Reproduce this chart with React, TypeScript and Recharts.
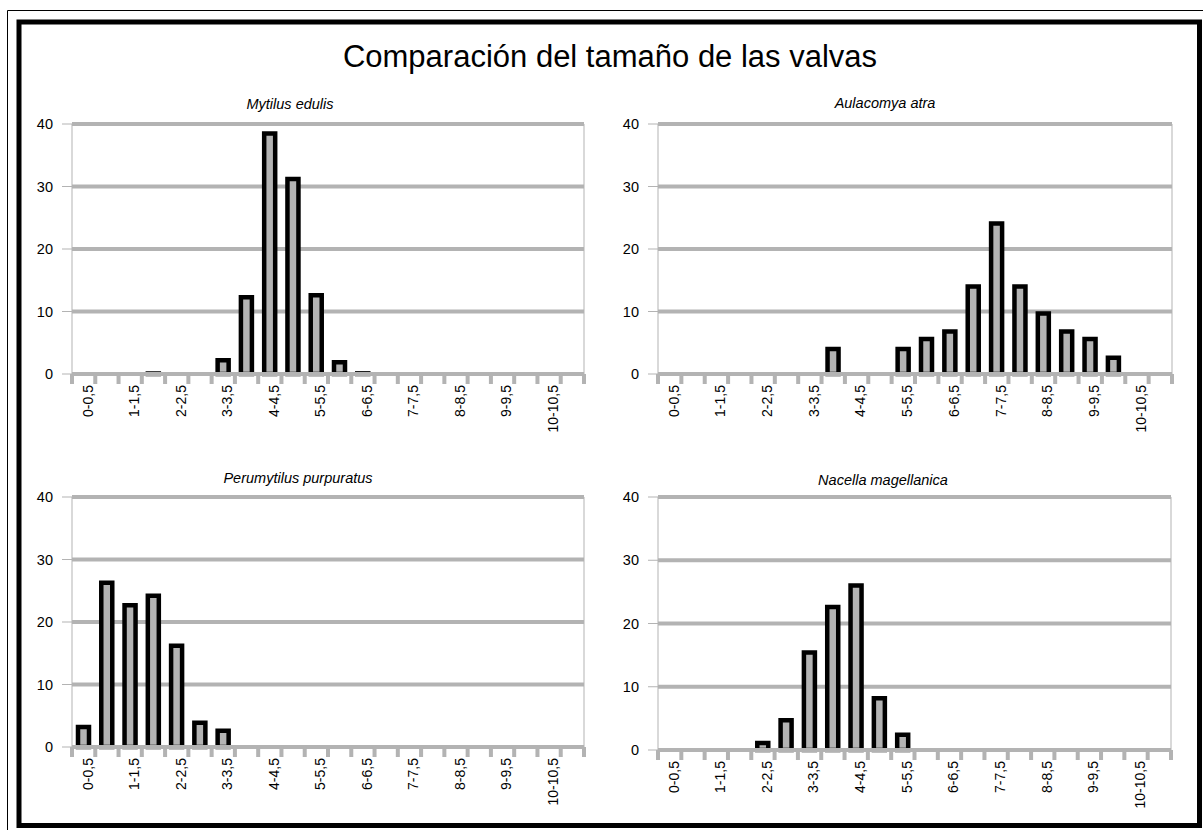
import React from "react";
import { BarChart, Bar, XAxis, YAxis, CartesianGrid } from "recharts";

const CATS = [
  "0-0,5", "0,5-1", "1-1,5", "1,5-2", "2-2,5", "2,5-3", "3-3,5", "3,5-4",
  "4-4,5", "4,5-5", "5-5,5", "5,5-6", "6-6,5", "6,5-7", "7-7,5", "7,5-8",
  "8-8,5", "8,5-9", "9-9,5", "9,5-10", "10-10,5", "10,5-11",
];

const MYTILUS = [0, 0, 0, 0.1, 0, 0, 2.2, 12.3, 38.5, 31.2, 12.6, 1.9, 0.1, 0, 0, 0, 0, 0, 0, 0, 0, 0];
const AULACOMYA = [0, 0, 0, 0, 0, 0, 0, 4.0, 0, 0, 4.0, 5.6, 6.8, 14.0, 24.1, 14.0, 9.7, 6.8, 5.6, 2.6, 0, 0];
const PERUMYTILUS = [3.2, 26.3, 22.7, 24.2, 16.2, 3.9, 2.6, 0, 0, 0, 0, 0, 0, 0, 0, 0, 0, 0, 0, 0, 0, 0];
const NACELLA = [0, 0, 0, 0, 1.1, 4.7, 15.4, 22.6, 26.0, 8.2, 2.4, 0, 0, 0, 0, 0, 0, 0, 0, 0, 0, 0];

const Y_TICKS = [0, 10, 20, 30, 40];

const TITLE = "Comparación del tamaño de las valvas";

const GRID = "#b3b3b3";
const FONT = "'Liberation Sans', Arial, sans-serif";

type PanelProps = {
  title: string;
  values: number[];
  left: number;
  top: number;
  plotW: number;
  plotH: number;
  titleX: number;
  titleY: number;
};

function CatTick(props: any) {
  const { x, y, payload, index, band } = props;
  const tx = x + 4;
  const ty = y + 11;
  return (
    <g>
      <rect x={x - band / 2 - 2} y={y} width={4} height={10} fill={GRID} />
      {index === CATS.length - 1 && (
        <rect x={x + band / 2 - 2} y={y} width={4} height={10} fill={GRID} />
      )}
      {index % 2 === 0 && (
        <text
          x={tx}
          y={ty}
          dy="0.35em"
          textAnchor="end"
          transform={`rotate(-90, ${tx}, ${ty})`}
          fontSize={14}
          fontFamily={FONT}
          fill="#000"
        >
          {payload.value}
        </text>
      )}
    </g>
  );
}

function Panel({ title, values, left, top, plotW, plotH, titleX, titleY }: PanelProps) {
  const data = CATS.map((c, i) => ({ cat: c, v: values[i] }));
  const yW = 52;
  const mTop = 14;
  const xH = 70;
  const band = plotW / CATS.length;
  return (
    <div style={{ position: "absolute", left, top }}>
      <div
        style={{
          position: "absolute",
          left: titleX - left - 150,
          top: titleY - top,
          width: 300,
          textAlign: "center",
          fontFamily: FONT,
          fontStyle: "italic",
          fontSize: 14.5,
          lineHeight: "16px",
        }}
      >
        {title}
      </div>
      <BarChart
        width={yW + plotW + 10}
        height={mTop + plotH + xH}
        data={data}
        margin={{ top: mTop, right: 10, left: 0, bottom: 0 }}
      >
        <CartesianGrid horizontal vertical={false} stroke={GRID} strokeWidth={4} />
        <CartesianGrid
          horizontal={false}
          vertical
          stroke={GRID}
          strokeWidth={1}
          verticalCoordinatesGenerator={({ offset }: any) => [offset.left + offset.width]}
        />
        <XAxis
          dataKey="cat"
          interval={0}
          height={xH}
          tickSize={0}
          tickMargin={0}
          tickLine={false}
          axisLine={{ stroke: GRID, strokeWidth: 4 }}
          tick={(p: any) => <CatTick {...p} band={band} />}
        />
        <YAxis
          width={yW}
          domain={[0, 40]}
          ticks={Y_TICKS}
          interval={0}
          tickSize={10}
          tickMargin={9}
          axisLine={{ stroke: GRID, strokeWidth: 1 }}
          tickLine={{ stroke: GRID, strokeWidth: 1 }}
          tick={{ fontSize: 14.5, fill: "#000", fontFamily: FONT }}
        />
        <Bar
          dataKey="v"
          fill={GRID}
          stroke="#000"
          strokeWidth={4.5}
          barSize={11}
          isAnimationActive={false}
        />
      </BarChart>
    </div>
  );
}

export default function App() {
  return (
    <div
      style={{
        position: "fixed",
        left: 0,
        top: 0,
        width: 1203,
        height: 830,
        overflow: "hidden",
        background: "#fff",
        fontFamily: FONT,
      }}
    >
      <svg width={1203} height={830} style={{ position: "absolute", left: 0, top: 0 }}>
        <line x1={7.5} y1={10.5} x2={1203} y2={10.5} stroke="#000" strokeWidth={1} />
        <line x1={7.5} y1={10.5} x2={7.5} y2={830} stroke="#000" strokeWidth={1} />
        <rect x={19} y={22} width={1180.5} height={803.5} fill="none" stroke="#000" strokeWidth={5} />
        <text x={610} y={67} textAnchor="middle" fontSize={31} fontFamily={FONT} fill="#000">
          {TITLE}
        </text>
      </svg>
      <Panel title="Mytilus edulis" values={MYTILUS} left={20} top={110} plotW={512} plotH={250} titleX={290} titleY={96} />
      <Panel title="Aulacomya atra" values={AULACOMYA} left={606} top={110} plotW={514} plotH={250} titleX={885} titleY={95} />
      <Panel title="Perumytilus purpuratus" values={PERUMYTILUS} left={20} top={483} plotW={512} plotH={250} titleX={298} titleY={470} />
      <Panel title="Nacella magellanica" values={NACELLA} left={606} top={483} plotW={513} plotH={253} titleX={883} titleY={472} />
    </div>
  );
}
